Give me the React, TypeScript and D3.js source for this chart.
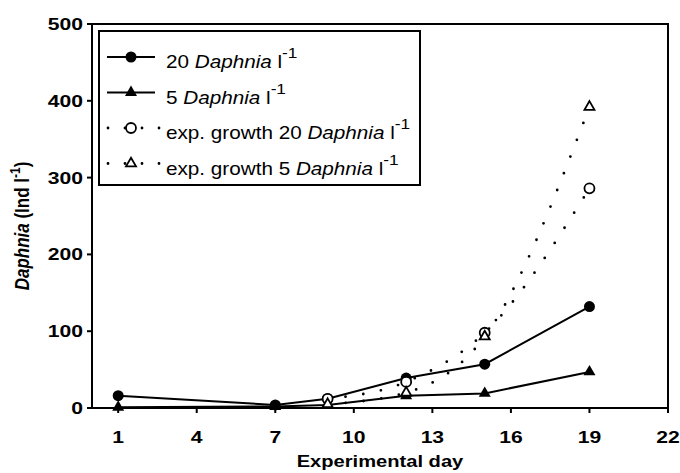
import React from 'react';
import * as d3 from 'd3';

// days sampled in the experiment
const days = [1, 7, 9, 12, 15, 19];
const d20 = [16, 4, 12, 39, 57, 132];
const d5 = [1, 2, 4, 16, 19, 47];

// exponential growth expectation, from day 9 on
const expDays = [9, 12, 15, 19];
const exp20 = [12, 34, 98, 286];
const exp5 = [5, 20, 93, 392];

const xTicks = [1, 4, 7, 10, 13, 16, 19, 22];
const yTicks = [0, 100, 200, 300, 400, 500];

const FONT = "Arial, 'Liberation Sans', sans-serif";

const W = 680;
const H = 473;
const left = 92, right = 668, top = 24, bottom = 408;

// the original's text is drawn wide, so stretch it horizontally
const SX_TICK = 1.28;
const SX_TITLE = 1.22;
const SX_LEG = 1.15;

export default function App() {
  const x = d3.scaleLinear().domain([0, 22]).range([left, right]);
  const y = d3.scaleLinear().domain([0, 500]).range([bottom, top]);

  const solid = d3.line<number>()
    .x((_, i) => x(days[i]))
    .y((d) => y(d));
  const dotted = d3.line<number>()
    .x((_, i) => x(expDays[i]))
    .y((d) => y(d))
    .curve(d3.curveMonotoneX);

  const tri = (side: number) => d3.symbol().type(d3.symbolTriangle).size((Math.sqrt(3) / 4) * side * side)()!;
  const filledTri = tri(12);
  const openTri = tri(10);

  const legendRows = [
    { label: '20 ', kind: 'circle', dotted: false },
    { label: '5 ', kind: 'tri', dotted: false },
    { label: 'exp. growth 20 ', kind: 'circle', dotted: true },
    { label: 'exp. growth 5 ', kind: 'tri', dotted: true },
  ];

  return (
    <svg width={W} height={H} style={{ position: 'absolute', left: 0, top: 0 }} fontFamily={FONT}>
      <rect x={0} y={0} width={W} height={H} fill="#fff" />

      {/* frame */}
      <rect x={left} y={top} width={right - left} height={bottom - top} fill="none" stroke="#000" strokeWidth={2} />

      {/* y axis ticks */}
      {yTicks.map((t) => (
        <g key={'y' + t}>
          <line x1={left - 5} x2={left} y1={y(t)} y2={y(t)} stroke="#000" strokeWidth={2} />
          <text transform={`translate(${left - 9},${y(t) + 6}) scale(${SX_TICK},1)`} textAnchor="end" fontSize={16.5} fontWeight="bold">{t}</text>
        </g>
      ))}

      {/* x axis ticks */}
      {xTicks.map((t) => (
        <g key={'x' + t}>
          <line x1={x(t)} x2={x(t)} y1={bottom} y2={bottom + 5} stroke="#000" strokeWidth={2} />
          <text transform={`translate(${x(t)},443) scale(${SX_TICK},1)`} textAnchor="middle" fontSize={16.5} fontWeight="bold">{t}</text>
        </g>
      ))}

      {/* axis titles */}
      <text transform={`translate(${(left + right) / 2},467) scale(${SX_TITLE},1)`} textAnchor="middle" fontSize={16.5} fontWeight="bold">Experimental day</text>
      <text transform={`translate(29,226) scale(${SX_TITLE},1) rotate(-90)`} textAnchor="middle" fontSize={17} fontWeight="bold">
        <tspan fontStyle="italic">Daphnia</tspan>
        <tspan> (Ind l</tspan>
        <tspan fontSize={12} dy={-7}>-1</tspan>
        <tspan dy={7}>)</tspan>
      </text>

      {/* measured series */}
      <path d={solid(d20)!} fill="none" stroke="#000" strokeWidth={2} />
      <path d={solid(d5)!} fill="none" stroke="#000" strokeWidth={2} />
      {d20.map((v, i) => (
        <circle key={'c' + i} cx={x(days[i])} cy={y(v)} r={5.5} fill="#000" />
      ))}
      {d5.map((v, i) => (
        <path key={'t' + i} d={filledTri} transform={`translate(${x(days[i])},${y(v)})`} fill="#000" />
      ))}

      {/* exponential growth */}
      <path d={dotted(exp20)!} fill="none" stroke="#000" strokeWidth={2.8} strokeDasharray="0 18" strokeLinecap="round" />
      <path d={dotted(exp5)!} fill="none" stroke="#000" strokeWidth={2.8} strokeDasharray="0 18" strokeLinecap="round" />
      {exp20.map((v, i) => (
        <circle key={'oc' + i} cx={x(expDays[i])} cy={y(v)} r={5} fill="#fff" stroke="#000" strokeWidth={1.8} />
      ))}
      {exp5.map((v, i) => (
        <path key={'ot' + i} d={openTri} transform={`translate(${x(expDays[i])},${y(v)})`} fill="#fff" stroke="#000" strokeWidth={1.8} />
      ))}

      {/* legend */}
      <rect x={99} y={31} width={321} height={154} fill="#fff" stroke="#000" strokeWidth={2} />
      {legendRows.map((r, i) => {
        const cy = 57 + i * 35.5;
        const base = 68 + i * 35.5;
        return (
          <g key={'lg' + i}>
            {r.dotted ? (
              <line x1={108} x2={160} y1={cy} y2={cy} stroke="#000" strokeWidth={2.8} strokeDasharray="0 17" strokeLinecap="round" />
            ) : (
              <line x1={107} x2={155} y1={cy} y2={cy} stroke="#000" strokeWidth={2} />
            )}
            {r.kind === 'circle' ? (
              <circle cx={131} cy={cy} r={r.dotted ? 5 : 5.5} fill={r.dotted ? '#fff' : '#000'} stroke="#000" strokeWidth={r.dotted ? 1.8 : 0} />
            ) : (
              <path d={r.dotted ? openTri : filledTri} transform={`translate(131,${cy})`} fill={r.dotted ? '#fff' : '#000'} stroke="#000" strokeWidth={r.dotted ? 1.8 : 0} />
            )}
            <text transform={`translate(166,${base}) scale(${SX_LEG},1)`} fontSize={18}>
              <tspan>{r.label}</tspan>
              <tspan fontStyle="italic">Daphnia</tspan>
              <tspan> l</tspan>
              <tspan fontSize={15} dy={-10}>-1</tspan>
            </text>
          </g>
        );
      })}
    </svg>
  );
}
